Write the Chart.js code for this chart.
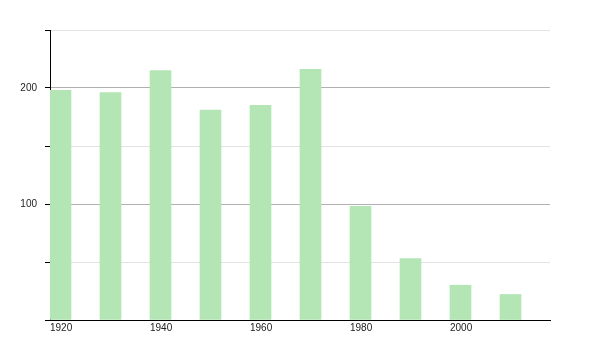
<!DOCTYPE html>
<html>
<head>
<meta charset="utf-8">
<script src="https://cdn.jsdelivr.net/npm/chart.js@4/dist/chart.umd.min.js"></script>
<style>
html,body{margin:0;padding:0;background:#fff;}
canvas{display:block;}
</style>
</head>
<body>
<canvas id="c" width="600" height="350"></canvas>
<script>
const years = [1920, 1930, 1940, 1950, 1960, 1970, 1980, 1990, 2000, 2010];
const population = [198, 196, 215, 181, 185, 216, 98, 53, 30, 22];
const yTickLabels = [100, 200];
const xTickLabels = [1920, 1940, 1960, 1980, 2000];

const barYears = 4.2; // bar width in years, bars drawn from the year rightwards
const barColor = '#b3e6b4';
const font = { family: 'Liberation Sans, Arial, sans-serif', size: 10 };

new Chart(document.getElementById('c'), {
  type: 'bar',
  data: {
    datasets: [{
      data: years.map((y, i) => ({ x: y, y: population[i] })),
      xAxisID: 'xb',
      backgroundColor: barColor,
      borderWidth: 0,
      barThickness: 21
    }]
  },
  options: {
    responsive: false,
    animation: false,
    layout: { padding: { top: 30, right: 50, left: 0, bottom: 0 } },
    plugins: { legend: { display: false }, tooltip: { enabled: false } },
    scales: {
      xb: {
        type: 'linear',
        display: false,
        offset: false,
        min: 1920 - barYears / 2,
        max: 2020 - barYears / 2
      },
      x: {
        type: 'linear',
        position: 'bottom',
        offset: false,
        min: 1920,
        max: 2020,
        afterFit: s => { s.height = 30; },
        afterBuildTicks: s => { s.ticks = xTickLabels.map(v => ({ value: v })); },
        ticks: {
          align: 'start',
          padding: 2,
          color: '#222',
          font: font,
          maxRotation: 0,
          callback: v => String(v)
        },
        grid: { display: false, offset: false, drawOnChartArea: false, drawTicks: false },
        border: { display: true, color: '#000', width: 1 }
      },
      y: {
        type: 'linear',
        min: 0,
        max: 250,
        afterFit: s => { s.width = 50; },
        ticks: {
          stepSize: 50,
          padding: 8,
          color: '#222',
          font: font,
          callback: v => (yTickLabels.includes(v) ? String(v) : '')
        },
        grid: {
          color: ctx => (ctx.tick && yTickLabels.includes(ctx.tick.value)) ? '#b0b0b0' : '#e2e2e2',
          tickColor: '#000',
          tickLength: 5,
          lineWidth: 1
        },
        border: { display: true, color: '#000', width: 1 }
      }
    }
  }
});
</script>
</body>
</html>
